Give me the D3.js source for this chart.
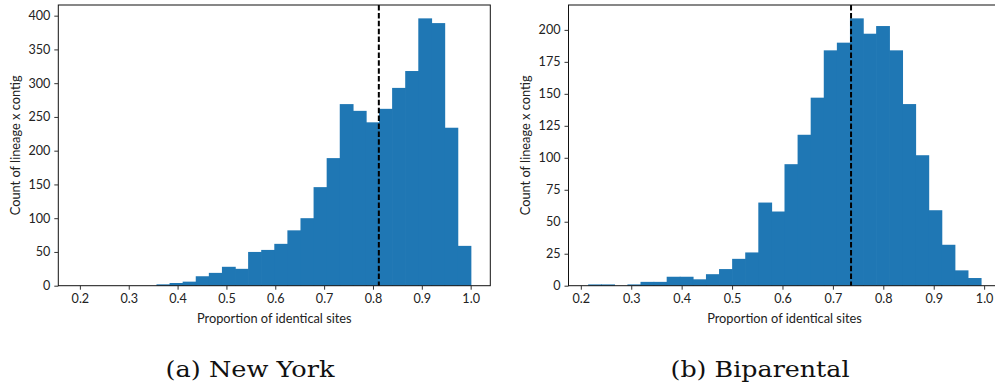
<!DOCTYPE html>
<html>
<head>
<meta charset="utf-8">
<script src="https://cdn.jsdelivr.net/npm/d3@7"></script>
<style>
  html, body { margin: 0; padding: 0; background: #fff; }
  svg { display: block; }
  .tick text { font-family: Lato, "Open Sans", sans-serif; font-size: 12.6px; fill: #222; }
  .axis-label { font-family: Lato, "Open Sans", sans-serif; font-size: 12.8px; fill: #222; }
  .caption { font-family: "DejaVu Serif", "Liberation Serif", serif; font-size: 22.5px; fill: #111; }
</style>
</head>
<body>
<svg id="chart" width="995" height="387"></svg>
<script>
// New York histogram: 30 bins of proportion of identical sites
const nyBinStart = 0.196;
const nyBinEnd = 1.0;
const nyCounts = [0, 0, 0, 0, 0, 0, 2, 4, 6, 14, 19, 28, 25, 50, 53, 62, 82, 100, 146, 189,
                  269, 259, 242, 262, 293, 318, 396, 389, 234, 59];
const nyMean = 0.812;
const nyYTicks = [0, 50, 100, 150, 200, 250, 300, 350, 400];

// Biparental histogram
const biBinStart = 0.2145;
const biBinEnd = 0.9935;
const biCounts = [1, 1, 0, 1, 3, 3, 7, 7, 5, 9, 13, 21, 26, 65, 58, 95, 118, 147, 184, 190,
                  209, 197, 203, 184, 142, 102, 59, 32, 12, 6];
const biMean = 0.736;
const biYTicks = [0, 25, 50, 75, 100, 125, 150, 175, 200];

const xTicks = [0.2, 0.3, 0.4, 0.5, 0.6, 0.7, 0.8, 0.9, 1.0];
const xLabel = "Proportion of identical sites";
const yLabel = "Count of lineage x contig";
const captions = ["(a) New York", "(b) Biparental"];

const barColor = "#1f77b4";
const svg = d3.select("#chart");

function panel(opts) {
  const { left, top, width, height, binStart, binEnd, counts, mean, yTicks,
          caption, captionX, captionWidth, yLabelX } = opts;
  const n = counts.length;
  const step = (binEnd - binStart) / n;
  const bins = counts.map((c, i) => ({ x0: binStart + i * step, x1: binStart + (i + 1) * step, count: c }));

  const pad = 0.05 * (binEnd - binStart);
  const x = d3.scaleLinear().domain([binStart - pad, binEnd + pad]).range([left, left + width]);
  const y = d3.scaleLinear().domain([0, d3.max(counts) * 1.05]).range([top + height, top]);

  const g = svg.append("g");

  g.selectAll("rect.bar")
    .data(bins.filter(d => d.count > 0))
    .join("rect")
    .attr("class", "bar")
    .attr("x", d => x(d.x0))
    .attr("width", d => x(d.x1) - x(d.x0) + 0.7)
    .attr("y", d => y(d.count))
    .attr("height", d => y(0) - y(d.count))
    .attr("fill", barColor);

  // mean marker
  g.append("line")
    .attr("x1", x(mean)).attr("x2", x(mean))
    .attr("y1", top).attr("y2", top + height)
    .attr("stroke", "#000")
    .attr("stroke-width", 2)
    .attr("stroke-dasharray", "5.5,2.4");

  // frame
  g.append("rect")
    .attr("x", left).attr("y", top)
    .attr("width", width).attr("height", height)
    .attr("fill", "none")
    .attr("stroke", "#111")
    .attr("stroke-width", 1);

  const xAxis = d3.axisBottom(x).tickValues(xTicks).tickFormat(d3.format(".1f")).tickSize(4).tickPadding(4);
  const gx = g.append("g").attr("transform", `translate(0,${top + height})`).call(xAxis);
  gx.select(".domain").remove();
  gx.selectAll(".tick line").attr("stroke", "#333");

  const yAxis = d3.axisLeft(y).tickValues(yTicks).tickFormat(d3.format("d")).tickSize(4).tickPadding(4);
  const gy = g.append("g").attr("transform", `translate(${left},0)`).call(yAxis);
  gy.select(".domain").remove();
  gy.selectAll(".tick line").attr("stroke", "#333");

  g.append("text")
    .attr("class", "axis-label")
    .attr("x", left + width / 2)
    .attr("y", top + height + 37)
    .attr("text-anchor", "middle")
    .text(xLabel);

  g.append("text")
    .attr("class", "axis-label")
    .attr("transform", `translate(${yLabelX},${top + height / 2}) rotate(-90)`)
    .attr("text-anchor", "middle")
    .text(yLabel);

  g.append("text")
    .attr("class", "caption")
    .attr("x", captionX - captionWidth / 2)
    .attr("y", 377)
    .attr("textLength", captionWidth)
    .attr("lengthAdjust", "spacingAndGlyphs")
    .text(caption);
}

panel({ left: 58.3, top: 5, width: 432, height: 280.7, binStart: nyBinStart, binEnd: nyBinEnd,
        counts: nyCounts, mean: nyMean, yTicks: nyYTicks,
        caption: captions[0], captionX: 250, captionWidth: 169, yLabelX: 20 });
panel({ left: 568.5, top: 5, width: 432, height: 280.7, binStart: biBinStart, binEnd: biBinEnd,
        counts: biCounts, mean: biMean, yTicks: biYTicks,
        caption: captions[1], captionX: 760, captionWidth: 179, yLabelX: 530 });
</script>
</body>
</html>
